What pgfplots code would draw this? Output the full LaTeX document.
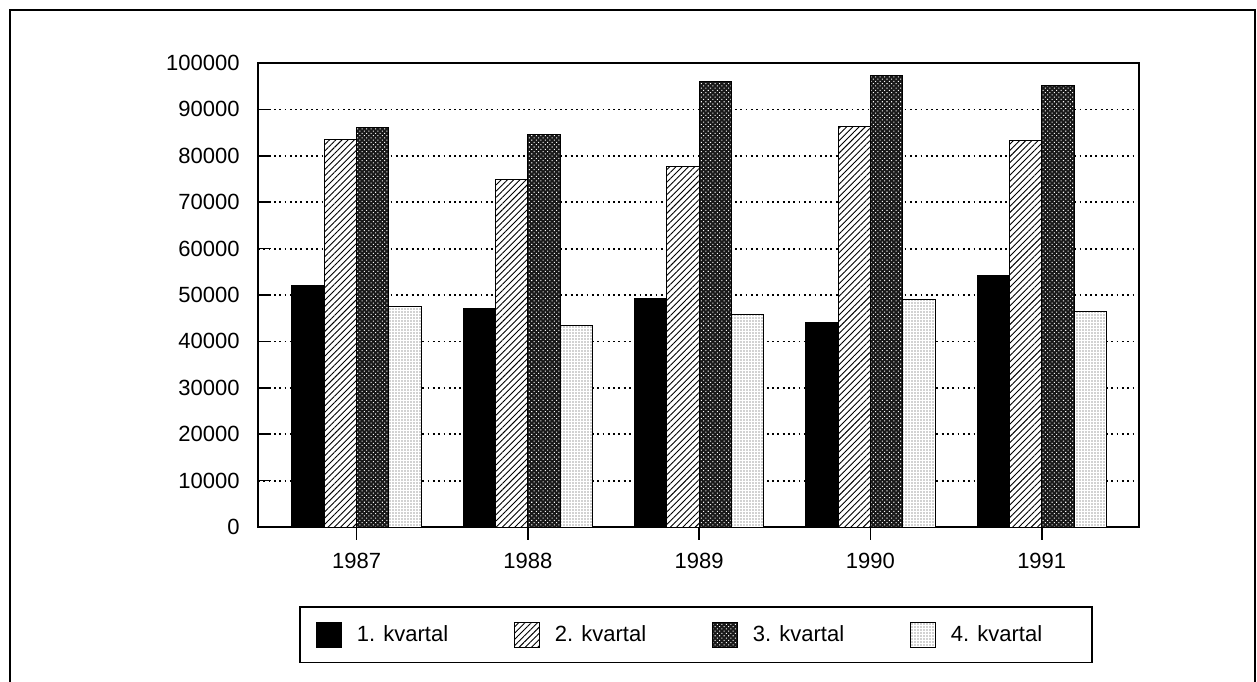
\documentclass[border=0pt]{standalone}
\usepackage{fontspec}
\setmainfont{Liberation Sans}
\usepackage{pgfplots}
\pgfplotsset{compat=1.18}
\usetikzlibrary{patterns.meta}

\begin{document}
\begin{tikzpicture}
\useasboundingbox (0,0) rectangle (628.5pt,-340.5pt);
% outer frame (bottom edge runs off the page)
\draw[line width=1pt] (5pt,-350pt) -- (5pt,-5pt) -- (627.6pt,-5pt) -- (627.6pt,-350pt);
\begin{axis}[
    at={(129pt,-263.5pt)}, anchor=south west,
    scale only axis, width=440.5pt, height=232pt,
    ybar=0pt, bar width=0.1888,
    xmin=-0.576, xmax=4.568, ymin=0, ymax=100000,
    xtick={0,...,4}, xticklabels={1987,1988,1989,1990,1991},
    ytick={0,10000,...,100000},
    scaled y ticks=false,
    tick pos=left, xtick align=outside, ytick align=inside,
    major tick length=6.4pt,
    tick style={line width=0.8pt, black},
    axis line style={line width=1pt},
    ymajorgrids=true,
    grid style={line width=0.9pt, dash pattern=on 0.9pt off 1.75pt, black},
    /pgf/number format/assume math mode=true,
    ticklabel style={font=\fontsize{11}{13}\selectfont, inner sep=0pt},
    x tick label style={anchor=north, yshift=-6.6pt},
    y tick label style={anchor=east, xshift=-9pt, /pgf/number format/fixed, /pgf/number format/1000 sep={}},
    every axis plot post/.append style={
        legend image code/.code={\draw[##1, line width=0.5pt] (0pt,-6.25pt) rectangle (12.5pt,6.25pt);}},
    legend columns=4,
    legend style={at={(0.4972,-0.1703)}, anchor=north, draw=black, line width=0.8pt,
        inner xsep=8pt, inner ysep=7.2pt, font=\fontsize{11}{13}\selectfont,
        /tikz/every odd column/.append style={column sep=5.5pt},
        /tikz/every even column/.append style={column sep=30.85pt}},
]
\addplot[draw=black, line width=0.5pt, fill=black]
    coordinates {(0,52000) (1,47000) (2,49300) (3,44000) (4,54200)};
\addplot[draw=black, line width=0.5pt, fill=white,
    postaction={pattern={Lines[angle=45, distance=2.2pt, line width=0.45pt]}}]
    coordinates {(0,83500) (1,75000) (2,77800) (3,86400) (4,83200)};
\addplot[draw=black, line width=0.5pt, fill=black!90,
    postaction={pattern={Dots[distance=1.6pt, radius=0.36pt, angle=45]}, pattern color=white}]
    coordinates {(0,86100) (1,84600) (2,96100) (3,97300) (4,95100)};
\addplot[draw=black, line width=0.5pt, fill=white,
    postaction={pattern={Dots[distance=1.5pt, radius=0.32pt]}, pattern color=black!75}]
    coordinates {(0,47600) (1,43500) (2,45700) (3,49100) (4,46400)};
\addlegendentry{1. kvartal}
\addlegendentry{2. kvartal}
\addlegendentry{3. kvartal}
\addlegendentry{4. kvartal\hspace*{15pt}}
\end{axis}
\end{tikzpicture}
\end{document}
